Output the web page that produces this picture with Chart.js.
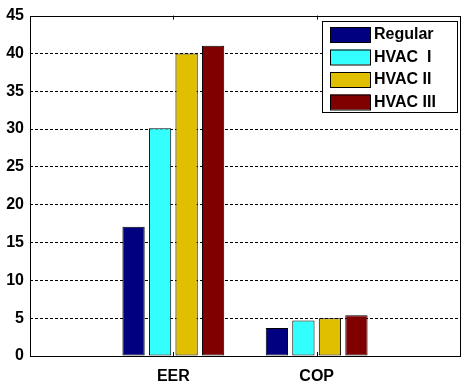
<!DOCTYPE html>
<html>
<head>
<meta charset="utf-8">
<script src="https://cdn.jsdelivr.net/npm/chart.js@4/dist/chart.umd.min.js"></script>
<style>
  html, body { margin: 0; padding: 0; background: #fff; }
  #wrap { width: 473px; height: 383px; }
</style>
</head>
<body>
<div id="wrap"><canvas id="c"></canvas></div>
<script>
// categories and series
const categories = ['EER', 'COP'];
const seriesNames = ['Regular', 'HVAC  I', 'HVAC II', 'HVAC III'];
const regular = [17.1, 3.7];
const hvac1 = [30.1, 4.7];
const hvac2 = [40.0, 5.0];
const hvac3 = [41.0, 5.4];
const yTicks = [0, 5, 10, 15, 20, 25, 30, 35, 40, 45];
const colors = ['#000080', '#33FFFF', '#DFBF00', '#800000'];

const FONT = { family: 'Arial, "Liberation Sans", sans-serif', size: 16, weight: 'bold' };

function toPoints(vals) {
    return vals.map((v, i) => ({ x: i + 1, y: v }));
}

// axes box, small inner ticks and legend box (matlab style)
const boxPlugin = {
    id: 'box',
    afterDraw(chart) {
        const ctx = chart.ctx;
        const a = chart.chartArea;
        const xs = chart.scales.x;
        ctx.save();
        ctx.strokeStyle = '#000';
        ctx.lineWidth = 1;
        ctx.strokeRect(Math.round(a.left) + 0.5, Math.round(a.top) + 0.5,
            Math.round(a.right - a.left), Math.round(a.bottom - a.top));
        // inner ticks on x
        ctx.beginPath();
        categories.forEach((c, i) => {
            const px = Math.round(xs.getPixelForValue(i + 1)) + 0.5;
            ctx.moveTo(px, a.bottom); ctx.lineTo(px, a.bottom - 4);
            ctx.moveTo(px, a.top); ctx.lineTo(px, a.top + 4);
        });
        ctx.stroke();

        // legend
        const lx = 322, ly = 21, lw = 135, lh = 91;
        ctx.fillStyle = '#fff';
        ctx.fillRect(lx, ly, lw, lh);
        ctx.strokeRect(lx + 0.5, ly + 0.5, lw, lh);
        ctx.font = 'bold 16px Arial, "Liberation Sans", sans-serif';
        ctx.textBaseline = 'middle';
        chart.data.datasets.forEach((ds, i) => {
            const cy = ly + 13 + i * 22.5;
            ctx.fillStyle = ds.backgroundColor;
            ctx.fillRect(lx + 8, cy - 7, 40, 15);
            ctx.strokeRect(lx + 8.5, cy - 6.5, 40, 15);
            ctx.fillStyle = '#000';
            ctx.fillText(ds.label, lx + 52, cy + 1);
        });
        ctx.restore();
    }
};

new Chart(document.getElementById('c'), {
    type: 'bar',
    data: {
        datasets: [regular, hvac1, hvac2, hvac3].map((vals, i) => ({
            label: seriesNames[i],
            data: toPoints(vals),
            backgroundColor: colors[i],
            borderColor: '#000',
            borderWidth: 1,
            borderSkipped: false,
            categoryPercentage: 0.74,
            barPercentage: 0.84
        }))
    },
    options: {
        responsive: true,
        maintainAspectRatio: false,
        animation: false,
        layout: { padding: { left: 0, top: 14, right: 13, bottom: 0 } },
        plugins: { legend: { display: false }, tooltip: { enabled: false } },
        scales: {
            x: {
                type: 'linear',
                min: 0,
                max: 3,
                offset: false,
                afterBuildTicks(axis) {
                    axis.ticks = categories.map((c, i) => ({ value: i + 1 }));
                },
                afterFit(axis) { axis.height = 27; },
                ticks: {
                    color: '#000',
                    font: FONT,
                    padding: 3,
                    callback: (v) => categories[v - 1] || ''
                },
                grid: { display: false, offset: false },
                border: { display: false }
            },
            y: {
                min: 0,
                max: 45,
                afterBuildTicks(axis) {
                    axis.ticks = yTicks.map(v => ({ value: v }));
                },
                afterFit(axis) { axis.width = 30; },
                ticks: { color: '#000', font: FONT, padding: 6 },
                grid: {
                    color: (c) => (c.tick && (c.tick.value === 0 || c.tick.value === 45)) ? 'rgba(0,0,0,0)' : '#000',
                    lineWidth: 1,
                    drawTicks: false
                },
                border: { display: false, dash: [3, 2] }
            }
        }
    },
    plugins: [boxPlugin]
});
</script>
</body>
</html>
